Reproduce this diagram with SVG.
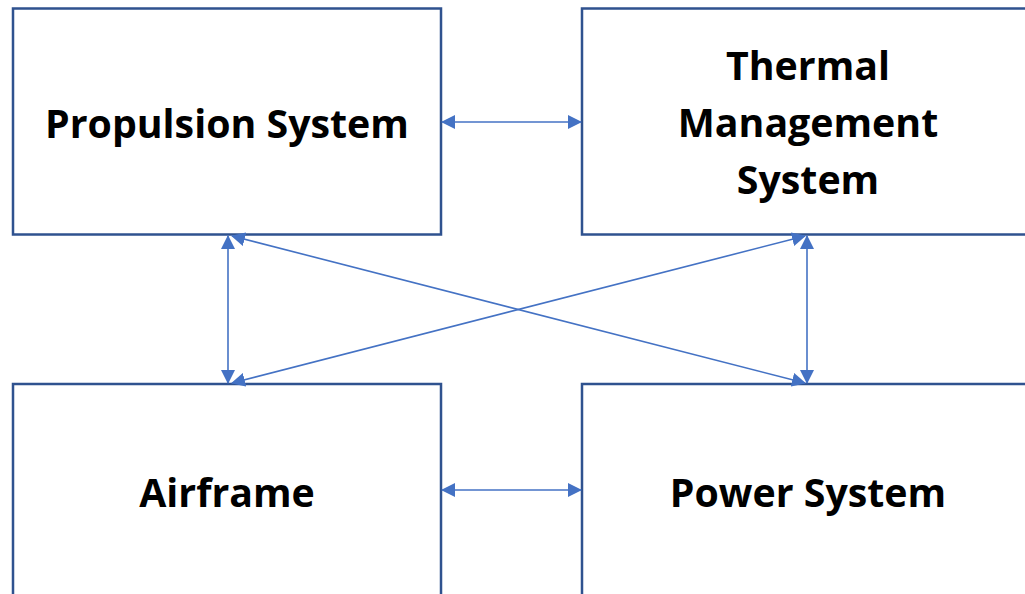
<svg xmlns="http://www.w3.org/2000/svg" width="1025" height="594" viewBox="0 0 1025 594">
<defs>
<style>
.box{fill:#ffffff;stroke:#2F528F;stroke-width:2.5}
.lbl{font-family:"Open Sans","Noto Sans","Liberation Sans",sans-serif;font-weight:700;font-size:39.3px;fill:#000000;text-anchor:middle}
.con{stroke:#4472C4;stroke-width:1.6;fill:none;marker-start:url(#ah);marker-end:url(#ah)}
</style>
<marker id="ah" viewBox="0 0 14 14" refX="13" refY="7" markerWidth="14" markerHeight="14" markerUnits="userSpaceOnUse" orient="auto-start-reverse">
<path d="M0,0 L14,7 L0,14 Z" fill="#4472C4"/>
</marker>
</defs>
<rect width="1025" height="594" fill="#ffffff"/>
<g id="propulsion">
<rect class="box" x="13" y="8.5" width="428" height="226"/>
<text class="lbl" x="227" y="138">Propulsion System</text>
</g>
<g id="thermal">
<rect class="box" x="582" y="8.5" width="454" height="226"/>
<text class="lbl" x="808" y="80">Thermal</text>
<text class="lbl" x="808" y="137">Management</text>
<text class="lbl" x="808" y="194">System</text>
</g>
<g id="airframe">
<rect class="box" x="13" y="384" width="428" height="226"/>
<text class="lbl" x="227" y="507">Airframe</text>
</g>
<g id="power">
<rect class="box" x="582" y="384" width="454" height="226"/>
<text class="lbl" x="808" y="507">Power System</text>
</g>
<g id="connectors">
<line class="con" x1="442" y1="122" x2="581" y2="122"/>
<line class="con" x1="442" y1="490" x2="581" y2="490"/>
<line class="con" x1="228" y1="236" x2="228" y2="383"/>
<line class="con" x1="807" y1="236" x2="807" y2="383"/>
<line class="con" x1="232" y1="236" x2="805" y2="383"/>
<line class="con" x1="232" y1="383" x2="805" y2="236"/>
</g>
</svg>
